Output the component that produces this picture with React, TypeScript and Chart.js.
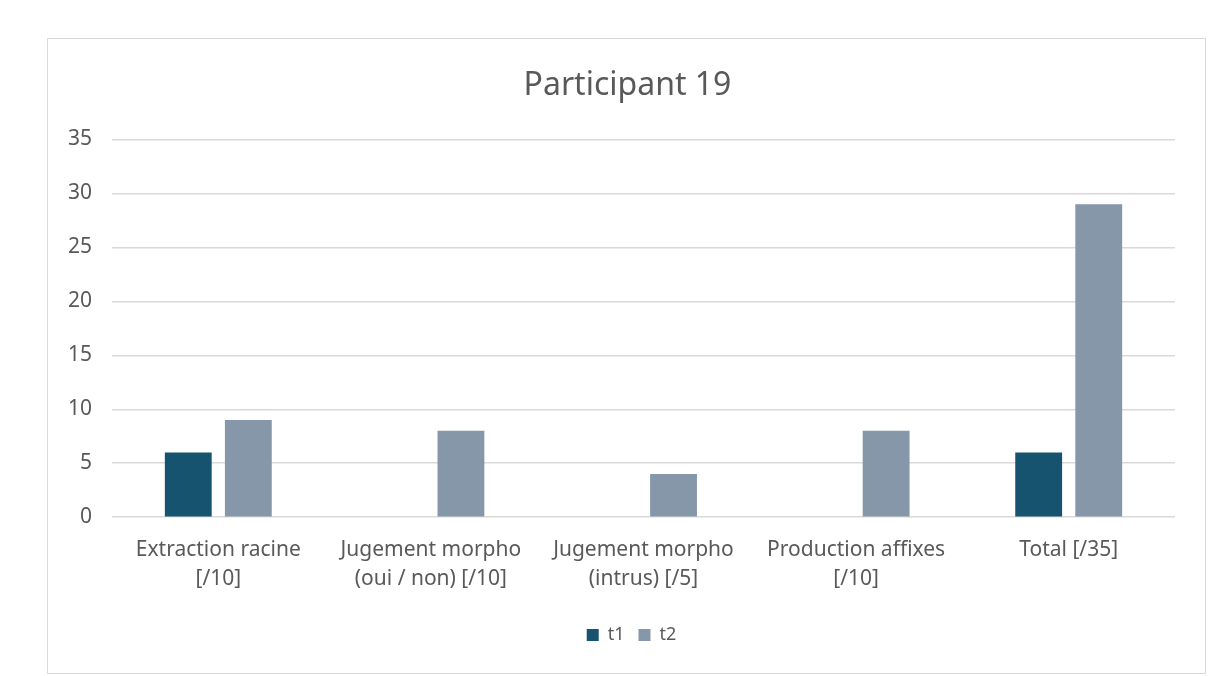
import React, { useEffect, useRef } from "react";
import { Chart, registerables } from "chart.js";

Chart.register(...registerables);

const categories: (string | string[])[] = [
  ["Extraction racine", "[/10]"],
  ["Jugement morpho", "(oui / non) [/10]"],
  ["Jugement morpho", "(intrus) [/5]"],
  ["Production affixes", "[/10]"],
  "Total [/35]",
];
const t1Values = [6, 0, 0, 0, 6];
const t2Values = [9, 8, 4, 8, 29];
const seriesNames = ["t1", "t2"];
const chartTitle = "Participant 19";

const FONT = "'Noto Sans', sans-serif";
const TEXT = "#595959";

const centerShift = {
  id: "centerShift",
  afterLayout(chart: any) {
    const lg = chart.legend;
    if (lg) {
      lg.left += 20;
      lg.right += 20;
    }
    const tb = chart.titleBlock;
    if (tb) {
      tb.left += 16;
      tb.right += 16;
    }
  },
};

export default function App() {
  const ref = useRef<HTMLCanvasElement | null>(null);
  useEffect(() => {
    document.body.style.margin = "0";
    const ctx = ref.current!;
    const chart = new Chart(ctx, {
      type: "bar",
      data: {
        labels: categories,
        datasets: [
          { label: seriesNames[0], data: t1Values, backgroundColor: "#15536f" },
          { label: seriesNames[1], data: t2Values, backgroundColor: "#8597a8" },
        ],
      },
      plugins: [centerShift],
      options: {
        animation: false,
        responsive: true,
        maintainAspectRatio: false,
        layout: { padding: { left: 0, right: 30, top: 0, bottom: 19 } },
        datasets: { bar: { categoryPercentage: 0.565, barPercentage: 0.78 } } as any,
        plugins: {
          title: {
            display: true,
            text: chartTitle,
            color: TEXT,
            font: { family: FONT, size: 32, weight: "normal" },
            padding: { top: 28, bottom: 34 },
          },
          legend: {
            position: "bottom",
            labels: {
              color: TEXT,
              font: { family: FONT, size: 18 },
              boxWidth: 12,
              boxHeight: 12,
              padding: 14,
            },
          },
          tooltip: { enabled: false },
        },
        scales: {
          x: {
            grid: { display: false, drawTicks: false },
            border: { display: false },
            ticks: {
              color: TEXT,
              font: { family: FONT, size: 21, lineHeight: 1.4 },
              padding: 18,
              maxRotation: 0,
            },
          },
          y: {
            min: 0,
            max: 35,
            grid: { color: "#d9d9d9", drawTicks: false, lineWidth: 1.5 },
            border: { display: false },
            ticks: { stepSize: 5, color: TEXT, font: { family: FONT, size: 21 }, padding: 20 },
            afterFit: (s: any) => {
              s.width = 64;
            },
          },
        },
      },
    });
    return () => chart.destroy();
  }, []);
  return (
    <div
      style={{
        position: "absolute",
        left: 47,
        top: 38,
        width: 1157,
        height: 634,
        border: "1px solid #d9d9d9",
        background: "#fff",
      }}
    >
      <canvas ref={ref} />
    </div>
  );
}
